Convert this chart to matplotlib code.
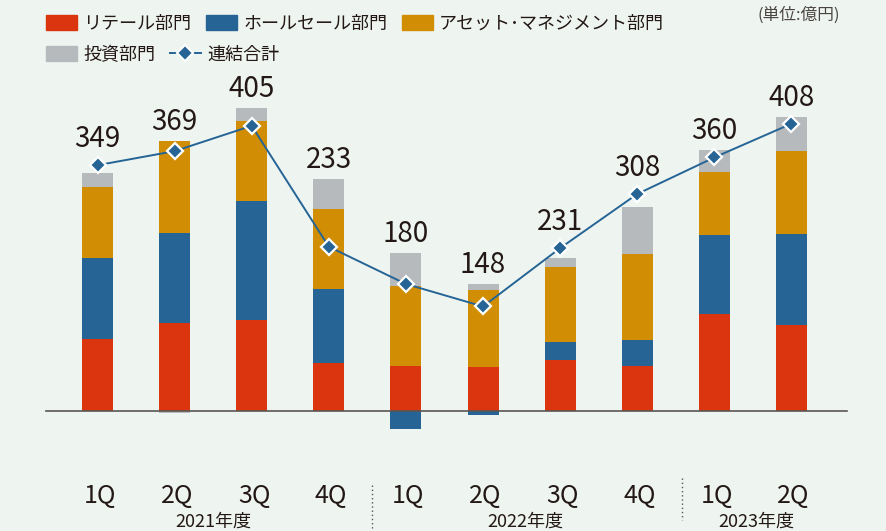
import numpy as np
import matplotlib
matplotlib.use('Agg')
import matplotlib.pyplot as plt
from matplotlib.patches import Patch
from matplotlib.lines import Line2D

plt.rcParams['font.family'] = ['Noto Sans CJK JP', 'DejaVu Sans']

# 億円, quarterly net revenue by division
quarters = ['1Q', '2Q', '3Q', '4Q', '1Q', '2Q', '3Q', '4Q', '1Q', '2Q']
years = ['2021年度', '2022年度', '2023年度']
retail = [102, 124, 129, 68, 64, 62, 72, 64, 137, 121]
wholesale = [115, 128, 169, 105, -27, -6, 25, 36, 112, 130]
asset = [101, 131, 114, 114, 113, 110, 107, 122, 91, 118]
invest = [20, -4, 18, 43, 47, 8, 13, 67, 31, 48]
total = [349, 369, 405, 233, 180, 148, 231, 308, 360, 408]

names = ['リテール部門', 'ホールセール部門', 'アセット･マネジメント部門', '投資部門']
colors = ['#DB3510', '#256495', '#D18E04', '#B7BABD']
bg = '#EEF5F1'
txt = '#231816'
line_c = '#256495'

fig = plt.figure(figsize=(8.87, 5.31), dpi=100, facecolor=bg)
ax = fig.add_axes([0, 0, 1, 1])
ax.set_facecolor(bg)
ax.set_xlim(-1.265, 10.24)
ax.set_ylim(-171.4, 584)
ax.axis('off')

x = np.arange(len(quarters))
pos_bottom = np.zeros(len(x))
neg_bottom = np.zeros(len(x))
for vals, c in zip([retail, wholesale, asset, invest], colors):
    v = np.array(vals, dtype=float)
    bottom = np.where(v >= 0, pos_bottom, neg_bottom)
    ax.bar(x, v, 0.402, bottom=bottom, color=c, zorder=2)
    pos_bottom += np.where(v >= 0, v, 0)
    neg_bottom += np.where(v < 0, v, 0)

ax.plot([-0.668, 9.72], [0, 0], color='#5a5652', lw=1.2, zorder=3)

ax.plot(x, total, color=line_c, lw=1.4, marker='D', ms=8.5,
        mfc=line_c, mec='white', mew=1.6, zorder=4)

for xi, t, top in zip(x, total, pos_bottom):
    ax.text(xi, max(t + 10, top) + 27, str(t), ha='center', va='center',
            fontsize=20, color=txt, zorder=5)

for xi, q in zip(x, quarters):
    ax.text(xi + 0.03, -121.6, q, ha='center', va='center', fontsize=18, color=txt)

for xc, y in zip([1.5, 5.55, 8.55], years):
    ax.text(xc, -158.6, y, ha='center', va='center', fontsize=13, color=txt)

ax.plot([3.56, 3.56], [-106, -175], color='#5a5652', lw=1, ls=(0, (1, 2)))
ax.plot([7.58, 7.58], [-96, -156], color='#5a5652', lw=1, ls=(0, (1, 2)))

h1 = [Patch(color=c, label=n) for c, n in zip(colors[:3], names[:3])]
h2 = [Patch(color=colors[3], label=names[3]),
      Line2D([0], [0], color=line_c, lw=1.4, marker='D', ms=8,
             mfc=line_c, mec='white', mew=1.5, label='連結合計')]
leg_kw = dict(frameon=False, fontsize=13, handlelength=1.72, handleheight=0.89,
              handletextpad=0.35, columnspacing=0.8, borderpad=0, borderaxespad=0,
              labelcolor=txt, loc='center left')
leg1 = fig.legend(handles=h1, ncol=3, bbox_to_anchor=(46 / 887, 1 - 24 / 531), **leg_kw)
leg2 = fig.legend(handles=h2, ncol=2, bbox_to_anchor=(46 / 887, 1 - 55 / 531), **leg_kw)

fig.text(840 / 887, 1 - 15 / 531, '(単位:億円)', ha='right', va='center',
         fontsize=12, color='#4a4542')

fig.savefig('out.png', dpi=100, facecolor=bg)
